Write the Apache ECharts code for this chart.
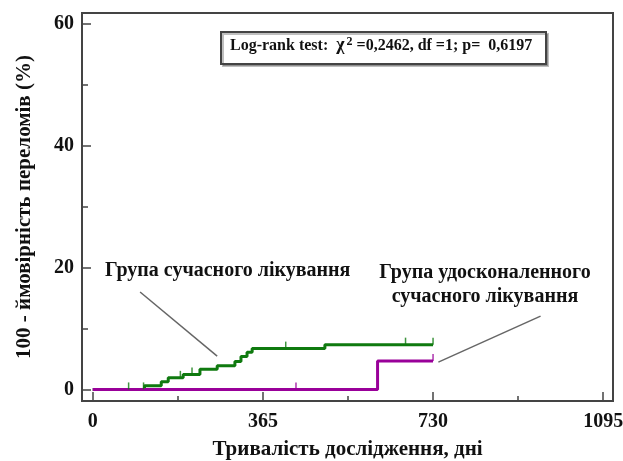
<!DOCTYPE html>
<html>
<head>
<meta charset="utf-8">
<script src="https://cdn.jsdelivr.net/npm/echarts@6/dist/echarts.min.js"></script>
<style>
html,body{margin:0;padding:0;background:#fff;}
#main{width:623px;height:461px;}
</style>
</head>
<body>
<div id="main"></div>
<script>
// ---- data ----
const xMajorTicks = [0, 365, 730, 1095];
const xMinorTicks = [182.5, 547.5, 912.5];
const yMajorTicks = [0, 20, 40, 60];
const yMinorTicks = [10, 30, 50];

// Group: сучасного лікування (green) — Kaplan–Meier steps [day, %]
const greenSteps = [
  [0, 0], [111, 0.6], [147, 1.25], [162, 1.9], [194, 2.45], [230, 3.3],
  [267, 3.9], [305, 4.6], [318, 5.4], [331, 6.1], [342, 6.7], [498, 7.35], [730, 7.35]
];
const greenCensored = [[77, 0], [109, 0], [188, 1.9], [213, 2.45], [414, 6.7], [671, 7.35], [730, 7.35]];

// Group: удосконаленного сучасного лікування (purple)
const purpleSteps = [[0, 0], [611, 4.65], [730, 4.65]];
const purpleCensored = [[436, 0], [730, 4.65]];

const labelGreen = 'Група сучасного лікування';
const labelPurple = 'Група удосконаленного\nсучасного лікування';
const xTitle = 'Тривалість дослідження, дні';
const yTitle = '100 - ймовірність переломів (%)';

const pointerGreen = [[101.6, 16.0], [266.9, 5.47]];
const pointerPurple = [[960.6, 12.04], [741.4, 4.48]];

const FONT = '"Liberation Serif", "Times New Roman", serif';
const GREEN = '#0f7a0f';
const PURPLE = '#990099';
const FRAME = '#444444';

const chart = echarts.init(document.getElementById('main'), null, {renderer: 'canvas'});

const baseX = {
  type: 'value', min: -23, max: 1116, position: 'bottom',
  axisLine: {show: false, onZero: false}, splitLine: {show: false}
};
const baseY = {
  type: 'value', min: -1.9, max: 61.8, position: 'left',
  axisLine: {show: false, onZero: false}, splitLine: {show: false}
};
const fmt = v => String(Math.round(v));

chart.setOption({
  animation: false,
  grid: {left: 82, right: 10, top: 13, bottom: 60, show: true, containLabel: false,
         outerBoundsMode: 'none',
         borderColor: FRAME, borderWidth: 2, backgroundColor: '#fff'},
  xAxis: [
    Object.assign({}, baseX, {
      axisTick: {show: true, inside: true, length: 9, customValues: xMajorTicks,
                 lineStyle: {color: FRAME, width: 1.5}},
      axisLabel: {show: true, customValues: xMajorTicks, margin: 11, formatter: fmt,
                  fontFamily: FONT, fontWeight: 'bold', fontSize: 20, color: '#111'},
      name: xTitle, nameLocation: 'middle', nameGap: 38,
      nameTextStyle: {fontFamily: FONT, fontWeight: 'bold', fontSize: 21, color: '#111'}
    }),
    Object.assign({}, baseX, {
      axisTick: {show: true, inside: true, length: 5, customValues: xMinorTicks,
                 lineStyle: {color: FRAME, width: 1.5}},
      axisLabel: {show: false}
    })
  ],
  yAxis: [
    Object.assign({}, baseY, {
      axisTick: {show: true, inside: true, length: 9, customValues: yMajorTicks,
                 lineStyle: {color: FRAME, width: 1.5}},
      axisLabel: {show: true, customValues: yMajorTicks, margin: 8, formatter: fmt,
                  fontFamily: FONT, fontWeight: 'bold', fontSize: 20, color: '#111'},
      name: yTitle, nameLocation: 'middle', nameGap: 47,
      nameTextStyle: {fontFamily: FONT, fontWeight: 'bold', fontSize: 21, color: '#111'}
    }),
    Object.assign({}, baseY, {
      axisTick: {show: true, inside: true, length: 6, customValues: yMinorTicks,
                 lineStyle: {color: FRAME, width: 1.5}},
      axisLabel: {show: false}
    })
  ],
  series: [
    {
      type: 'line', step: 'end', data: greenSteps, symbol: 'none',
      lineStyle: {color: GREEN, width: 3}, z: 3,
      markLine: {
        silent: true, symbol: ['none', 'none'], label: {show: false},
        lineStyle: {color: '#666', width: 1.5, type: 'solid'},
        data: [
          [{coord: pointerGreen[0]}, {coord: pointerGreen[1]}],
          [{coord: pointerPurple[0]}, {coord: pointerPurple[1]}]
        ]
      }
    },
    {
      type: 'line', step: 'end', data: purpleSteps, symbol: 'none',
      lineStyle: {color: PURPLE, width: 3}, z: 4
    },
    {
      type: 'scatter', data: greenCensored, symbol: 'rect', symbolSize: [1.5, 7],
      symbolOffset: [0, -3.5], itemStyle: {color: GREEN}, z: 5
    },
    {
      type: 'scatter', data: purpleCensored, symbol: 'rect', symbolSize: [1.5, 7],
      symbolOffset: [0, -3.5], itemStyle: {color: PURPLE}, z: 5
    }
  ],
  graphic: [
    {
      type: 'rect', left: 220, top: 31, z: 10,
      shape: {width: 325, height: 32},
      style: {fill: '#fff', stroke: FRAME, lineWidth: 2,
              shadowColor: 'rgba(0,0,0,0.25)', shadowOffsetX: 2, shadowOffsetY: 2}
    },
    {
      type: 'text', left: 230, top: 36, z: 11,
      style: {
        text: '{t|Log-rank test:  }{c|χ}{s|2}{t| =0,2462, df =1; p=  0,6197}',
        rich: {
          t: {fontFamily: FONT, fontWeight: 'bold', fontSize: 16, fill: '#111', verticalAlign: 'bottom'},
          c: {fontFamily: FONT, fontWeight: 'bold', fontSize: 18, fill: '#111', verticalAlign: 'bottom'},
          s: {fontFamily: FONT, fontWeight: 'bold', fontSize: 12, fill: '#111', verticalAlign: 'top', padding: [0, 0, 6, 2]}
        }
      }
    },
    {
      type: 'text', left: 105, top: 261, z: 11,
      style: {text: labelGreen, fontFamily: FONT, fontWeight: 'bold', fontSize: 20, fill: '#111'}
    },
    {
      type: 'text', x: 485, y: 261, z: 11,
      style: {text: labelPurple, align: 'center', fontFamily: FONT, fontWeight: 'bold',
              fontSize: 20, lineHeight: 24, fill: '#111'}
    }
  ]
});
</script>
</body>
</html>
